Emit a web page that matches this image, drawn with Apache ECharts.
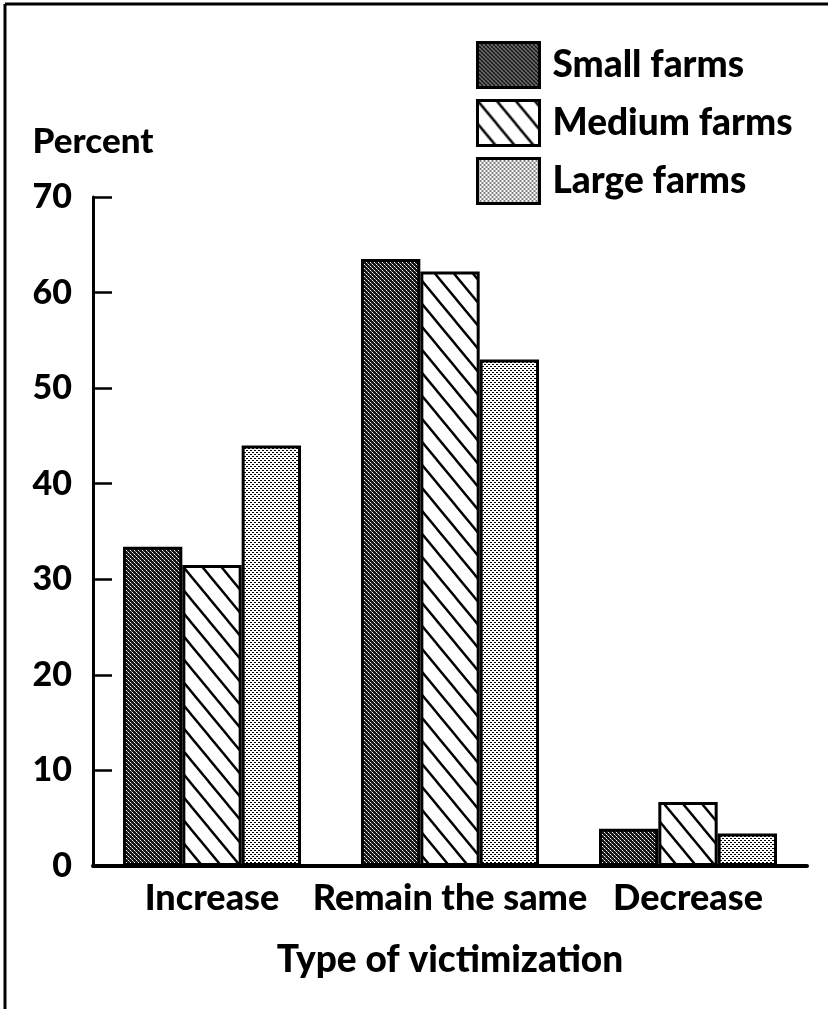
<!DOCTYPE html>
<html><head><meta charset="utf-8">
<script src="https://cdn.jsdelivr.net/npm/echarts@6/dist/echarts.min.js"></script>
<style>html,body{margin:0;padding:0;background:#fff}#c{width:828px;height:1009px}</style>
</head><body><div id="c"></div>
<script>
const categories = ['Increase', 'Remain the same', 'Decrease'];
const seriesNames = ['Small farms', 'Medium farms', 'Large farms'];
const smallFarms = [33.4, 63.5, 3.9];
const mediumFarms = [31.5, 62.2, 6.7];
const largeFarms = [44.0, 53.0, 3.4];
const yMin = 0, yMax = 70, yInterval = 10;
const xAxisTitle = 'Type of victimization';
const yAxisTitle = 'Percent';

function tile(w, h, draw) {
  const c = document.createElement('canvas');
  c.width = w; c.height = h;
  const g = c.getContext('2d');
  draw(g, w, h);
  return { image: c, repeat: 'repeat' };
}
const darkPattern = tile(4, 4, (g) => {
  g.fillStyle = '#151515'; g.fillRect(0, 0, 4, 4);
  g.fillStyle = '#fff'; g.fillRect(0, 0, 1, 1); g.fillRect(2, 2, 1, 1);
  g.fillStyle = '#9a9a9a'; g.fillRect(1, 1, 1, 1); g.fillRect(3, 3, 1, 1);
});
const hatchPattern = tile(19, 23, (g, w, h) => {
  g.fillStyle = '#fff'; g.fillRect(0, 0, w, h);
  g.strokeStyle = '#000'; g.lineWidth = 2.4;
  for (let k = -1; k <= 1; k++) {
    g.beginPath(); g.moveTo(k * w - w, -h); g.lineTo(k * w + 2 * w, 2 * h); g.stroke();
  }
});
const lightPattern = tile(4, 4, (g) => {
  g.fillStyle = '#fff'; g.fillRect(0, 0, 4, 4);
  g.fillStyle = '#000'; g.fillRect(0, 0, 2, 1); g.fillRect(2, 2, 2, 1);
});
const patterns = [darkPattern, hatchPattern, lightPattern];
const values = [smallFarms, mediumFarms, largeFarms];

const FONT = 'Lato';
const W = 900;
const chart = echarts.init(document.getElementById('c'), null, { renderer: 'canvas' });
chart.setOption({
  animation: false,
  backgroundColor: '#fff',
  grid: { left: 93, right: 21, top: 197, bottom: 143, containLabel: false },
  legend: {
    orient: 'vertical', left: 476, top: 41, padding: 0,
    itemWidth: 62, itemHeight: 45, itemGap: 10,
    icon: 'rect',
    itemStyle: { borderColor: '#000', borderWidth: 3 },
    textStyle: { fontFamily: FONT, fontWeight: W, fontSize: 37, color: '#000', padding: [0, 0, 0, 8] },
    data: seriesNames
  },
  xAxis: {
    type: 'category', data: categories,
    name: xAxisTitle, nameLocation: 'middle', nameGap: 76,
    nameTextStyle: { fontFamily: FONT, fontWeight: W, fontSize: 37, color: '#000' },
    axisLine: { lineStyle: { color: '#000', width: 4 } },
    axisTick: { show: false },
    axisLabel: { fontFamily: FONT, fontWeight: W, fontSize: 36, color: '#000', margin: 14, interval: 0 },
    splitLine: { show: false }
  },
  yAxis: {
    type: 'value', min: yMin, max: yMax, interval: yInterval,
    name: yAxisTitle, nameLocation: 'end', nameGap: 38,
    nameTextStyle: { fontFamily: FONT, fontWeight: W, fontSize: 35, color: '#000' },
    axisLine: { show: true, lineStyle: { color: '#000', width: 3 } },
    axisTick: { show: true, inside: true, length: 19, lineStyle: { color: '#000', width: 2.5 } },
    axisLabel: { fontFamily: FONT, fontWeight: W, fontSize: 34, color: '#000', margin: 21 },
    splitLine: { show: false }
  },
  series: seriesNames.map((name, i) => ({
    name, type: 'bar', data: values[i],
    barGap: '0%', barCategoryGap: '25.2%',
    itemStyle: { color: patterns[i], borderColor: '#000', borderWidth: 3 },
    emphasis: { disabled: true }
  })),
  graphic: [
    { type: 'line', shape: { x1: 5, y1: 4, x2: 828, y2: 4 }, style: { stroke: '#000', lineWidth: 3 } },
    { type: 'line', shape: { x1: 5, y1: 4, x2: 5, y2: 1009 }, style: { stroke: '#000', lineWidth: 3 } }
  ]
});
</script></body></html>
